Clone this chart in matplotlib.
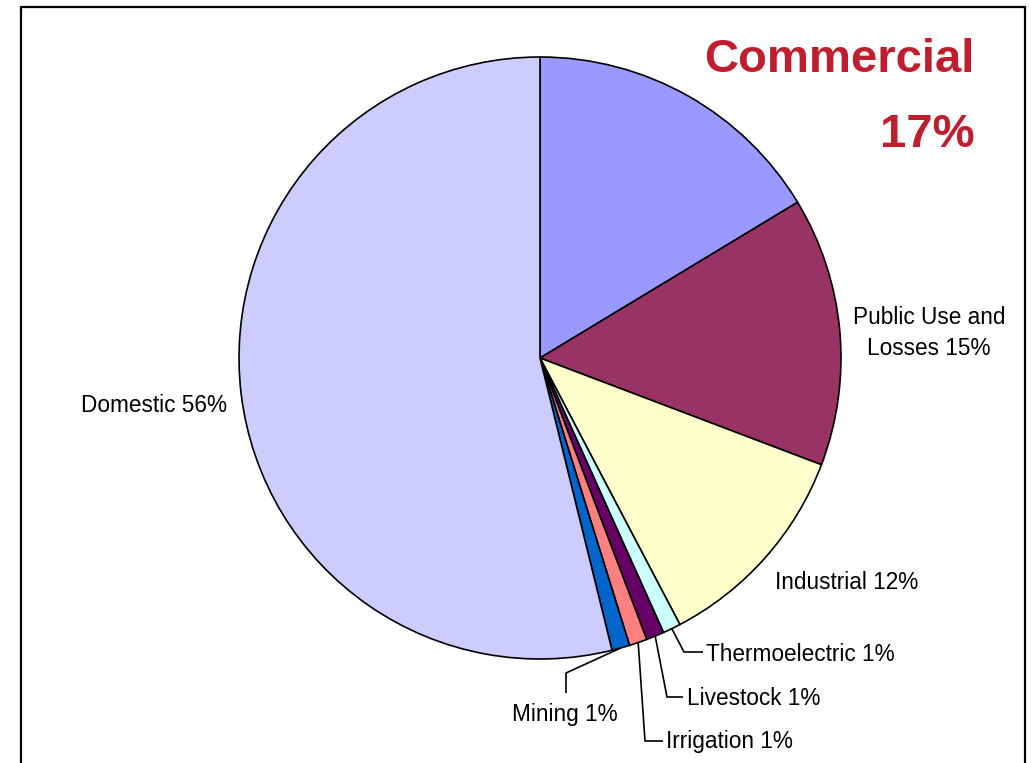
import numpy as np
import matplotlib
matplotlib.use("Agg")
import matplotlib.pyplot as plt
from matplotlib.patches import Rectangle

plt.rcParams['font.family'] = ['Liberation Sans', 'DejaVu Sans']

# Water use by sector (percent shares, clockwise from 12 o'clock)
sectors = ["Commercial", "Public Use and Losses", "Industrial", "Thermoelectric",
           "Livestock", "Irrigation", "Mining", "Domestic"]
shares = [17, 15, 12, 1, 1, 1, 1, 56]
colors = ["#9999FF", "#993366", "#FFFFCC", "#CCFFFF",
          "#660066", "#FF8080", "#0066CC", "#CCCCFF"]

W, H = 1031, 763
fig = plt.figure(figsize=(W / 100, H / 100), dpi=100)
ax = fig.add_axes([0, 0, 1, 1])
ax.axis('off')

def Y(y):
    # convert a top-down pixel row into the axes' upward y
    return H - y

# chart frame
ax.add_patch(Rectangle((21, Y(790)), 1004, 783, fill=False, lw=1.6,
                       edgecolor='black', zorder=0))

cx, cy, r = 540, Y(358), 301
wedges, _ = ax.pie(shares, colors=colors, startangle=90, counterclock=False,
                   center=(cx, cy), radius=r,
                   wedgeprops=dict(edgecolor='black', linewidth=1.2))
ax.set_xlim(0, W)
ax.set_ylim(0, H)
ax.set_aspect('equal')

def edge_point(w):
    mid = np.deg2rad((w.theta1 + w.theta2) / 2)
    return cx + r * np.cos(mid), cy + r * np.sin(mid)

fs = 16.3
lab = dict(fontsize=fs, color='black', va='baseline')

# Headline for the largest highlighted sector
ax.text(975, Y(72), sectors[0], fontsize=34, fontweight='bold',
        color='#BE1E2D', ha='right', va='baseline')
ax.text(975, Y(147), f"{shares[0]}%", fontsize=34, fontweight='bold',
        color='#BE1E2D', ha='right', va='baseline')

# Large-slice labels
ax.text(929, Y(324), "Public Use and", ha='center', **lab)
ax.text(929, Y(355), f"Losses {shares[1]}%", ha='center', **lab)
ax.text(847, Y(589), f"{sectors[2]} {shares[2]}%", ha='center', **lab)
ax.text(154, Y(412), f"{sectors[7]} {shares[7]}%", ha='center', **lab)

# Small slices with leader lines: (index, bend point, line end, text anchor, ha)
leaders = [
    (3, (684, 652), (703, 652), (706, 661), 'left'),
    (4, (667, 697), (683, 697), (687, 705), 'left'),
    (5, (645, 741), (663, 741), (666, 748), 'left'),
    (6, (566, 673), (566, 693), (565, 721), 'center'),
]
for i, bend, end, txt, ha in leaders:
    sx, sy = edge_point(wedges[i])
    xs = [sx, bend[0], end[0]]
    ys = [sy, Y(bend[1]), Y(end[1])]
    ax.plot(xs, ys, color='black', lw=1.2, solid_capstyle='butt')
    ax.text(txt[0], Y(txt[1]), f"{sectors[i]} {shares[i]}%", ha=ha, **lab)

fig.savefig("out.png", dpi=100, facecolor='white')
